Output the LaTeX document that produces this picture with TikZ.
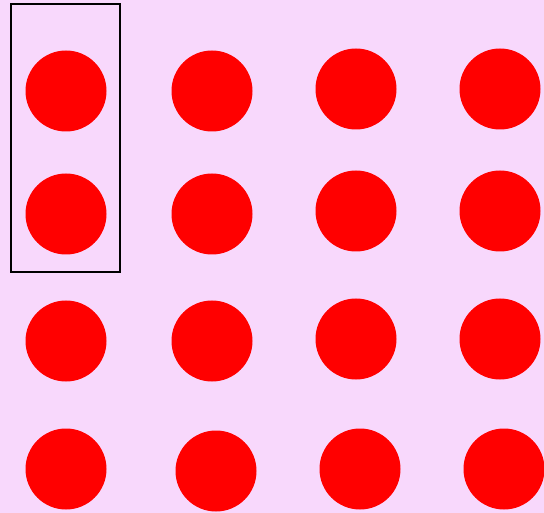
\documentclass[tikz,border=0pt]{standalone}
\usetikzlibrary{positioning}
\definecolor{pinkbg}{RGB}{248,216,252}
\definecolor{dotred}{RGB}{255,0,0}
\tikzset{
  dot/.style={circle,fill=dotred,minimum size=81pt,inner sep=0pt},
  framebox/.style={draw=black,line width=2pt}
}
\newcommand{\reddot}[2]{\node[dot] (#1) at #2 {};}

\begin{document}
\begin{tikzpicture}[x=1pt,y=-1pt]
	\fill[pinkbg] (0,0) rectangle (544,513);
	\useasboundingbox (0,0) rectangle (544,513);
	\reddot{d11}{(66,91)} \reddot{d12}{(212,91)} \reddot{d13}{(356,89)} \reddot{d14}{(500,89)}
	\reddot{d21}{(66,214)} \reddot{d22}{(212,214)} \reddot{d23}{(356,211)} \reddot{d24}{(500,211)}
	\reddot{d31}{(66,341)} \reddot{d32}{(212,341)} \reddot{d33}{(356,339)} \reddot{d34}{(500,339)}
	\reddot{d41}{(66,469)} \reddot{d42}{(216,471)} \reddot{d43}{(360,469)} \reddot{d44}{(504,469)}
	\draw[framebox] (11,4) rectangle (120,272);
\end{tikzpicture}
\end{document}
